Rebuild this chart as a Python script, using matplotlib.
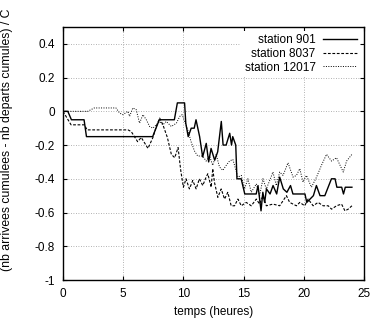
import matplotlib
matplotlib.use("Agg")
import matplotlib.pyplot as plt

plt.rcParams['font.family'] = ['Liberation Sans', 'DejaVu Sans']

# station 901 (solid)
t901 = [0, 0.4, 0.7, 1.75, 1.95, 7.45, 8.0, 9.25, 9.5, 10.1,
        10.2, 10.4, 10.65, 10.9, 11.05, 11.35, 11.6, 11.9, 12.1, 12.3,
        12.6, 12.85, 13.15, 13.3, 13.55, 13.85, 14.0, 14.1, 14.35, 14.45,
        14.8, 15.1, 16.05, 16.2, 16.45, 16.6, 16.75, 16.9, 17.2, 17.45,
        17.75, 18.0, 18.3, 18.6, 18.9, 19.1, 20.1, 20.25, 20.8, 21.05,
        21.35, 21.75, 22.3, 22.6, 22.75, 23.15, 23.3, 23.45, 24.0]
v901 = [0, 0, -0.05, -0.05, -0.15, -0.15, -0.05, -0.05, 0.05, 0.05,
        -0.07, -0.15, -0.1, -0.1, -0.05, -0.15, -0.27, -0.19, -0.3, -0.22,
        -0.29, -0.24, -0.06, -0.2, -0.2, -0.13, -0.2, -0.15, -0.2, -0.4,
        -0.4, -0.49, -0.49, -0.44, -0.59, -0.48, -0.54, -0.46, -0.49, -0.44,
        -0.49, -0.39, -0.46, -0.48, -0.44, -0.49, -0.49, -0.54, -0.5, -0.44,
        -0.5, -0.5, -0.4, -0.4, -0.45, -0.45, -0.49, -0.45, -0.45]

# station 8037 (dashed)
t8037 = [0, 0.67, 1.78, 2.0, 5.4, 5.67, 6.2, 6.5, 7.06, 7.47,
         7.75, 8.03, 8.3, 8.67, 9.0, 9.28, 9.56, 9.78, 10.0, 10.22,
         10.5, 10.78, 11.06, 11.33, 11.61, 11.89, 12.03, 12.31, 12.44, 12.58,
         12.86, 13.14, 13.42, 13.69, 13.97, 14.25, 14.53, 14.81, 15.22, 15.64,
         16.06, 16.33, 16.61, 16.89, 17.44, 18.0, 18.56, 18.83, 19.39, 19.67,
         20.08, 20.36, 20.78, 21.19, 21.61, 22.03, 22.31, 22.72, 23.14, 23.42,
         23.69, 24.0]
v8037 = [0, -0.08, -0.08, -0.11, -0.11, -0.12, -0.18, -0.155, -0.22, -0.155,
         -0.09, -0.04, -0.08, -0.155, -0.255, -0.275, -0.215, -0.35, -0.45, -0.4,
         -0.46, -0.41, -0.46, -0.4, -0.44, -0.39, -0.37, -0.45, -0.34, -0.42,
         -0.51, -0.46, -0.52, -0.48, -0.56, -0.56, -0.52, -0.56, -0.54, -0.56,
         -0.52, -0.55, -0.5, -0.56, -0.55, -0.56, -0.5, -0.54, -0.56, -0.54,
         -0.56, -0.52, -0.56, -0.54, -0.56, -0.56, -0.58, -0.56, -0.55, -0.59,
         -0.58, -0.56]

# station 12017 (dotted)
t12017 = [0, 2.05, 2.6, 4.4, 4.7, 4.97, 5.4, 5.53, 5.8, 6.08,
          6.36, 6.64, 6.92, 7.2, 7.47, 7.75, 8.03, 8.3, 8.58, 9.0,
          9.42, 9.7, 9.9, 10.36, 10.64, 10.92, 11.19, 11.61, 11.89, 12.17,
          12.44, 12.72, 13.0, 13.28, 13.56, 13.83, 14.11, 14.53, 14.81, 15.08,
          15.36, 15.64, 16.06, 16.33, 16.61, 16.89, 17.17, 17.44, 17.72, 18.0,
          18.28, 18.69, 19.11, 19.39, 19.67, 19.94, 20.22, 20.64, 21.06, 21.47,
          21.89, 22.31, 22.72, 23.28, 23.56, 24.0]
v12017 = [0, 0, 0.02, 0.02, -0.01, -0.02, 0, -0.03, 0.02, 0.01,
          -0.07, -0.02, -0.05, -0.09, -0.1, -0.08, -0.06, -0.08, -0.06, -0.09,
          -0.07, -0.03, -0.02, -0.11, -0.18, -0.235, -0.265, -0.265, -0.295, -0.265,
          -0.32, -0.255, -0.33, -0.35, -0.32, -0.295, -0.285, -0.39, -0.38, -0.46,
          -0.4, -0.48, -0.43, -0.5, -0.4, -0.46, -0.41, -0.36, -0.44, -0.36,
          -0.38, -0.305, -0.39, -0.38, -0.34, -0.42, -0.38, -0.45, -0.39, -0.32,
          -0.255, -0.295, -0.275, -0.36, -0.295, -0.255]

xticks = [0, 5, 10, 15, 20, 25]
yticks = [-1, -0.8, -0.6, -0.4, -0.2, 0, 0.2, 0.4]
ytick_labels = ['-1', '-0.8', '-0.6', '-0.4', '-0.2', '0', '0.2', '0.4']

fig = plt.figure(figsize=(3.71, 3.24), dpi=100)
ax = fig.add_axes([0.1698, 0.1358, 0.8112, 0.7809])

ax.plot(t901, v901, color='black', lw=1.0, linestyle='-', label='station 901')
ax.plot(t8037, v8037, color='black', lw=0.8, linestyle=(0, (2.5, 1.5)), label='station 8037')
ax.plot(t12017, v12017, color='black', lw=0.7, linestyle=(0, (1, 1.5)), label='station 12017')

ax.set_xlim(0, 25)
ax.set_ylim(-1, 0.5)
ax.set_xticks(xticks)
ax.set_xticklabels([str(x) for x in xticks])
ax.set_yticks(yticks)
ax.set_yticklabels(ytick_labels)
ax.tick_params(direction='in', top=True, right=True, labelsize=8.5, length=3, width=0.8, pad=6)
ax.grid(True, color='#999999', linestyle=(0, (1, 2)), linewidth=0.6)
ax.set_axisbelow(True)
for s in ax.spines.values():
    s.set_linewidth(1.0)

ax.set_xlabel('temps (heures)', fontsize=8.5, labelpad=4)
ax.set_ylabel('(nb arrivees cumulees - nb departs cumules) / C', fontsize=8.8)
ax.yaxis.set_label_coords(-0.165, 0.555)

leg = ax.legend(loc='upper right', fontsize=8.5, markerfirst=False, frameon=True,
                fancybox=False, handlelength=2.9, handletextpad=0.6,
                borderaxespad=0.3, labelspacing=0.15, borderpad=0.3)
leg.get_frame().set_facecolor('white')
leg.get_frame().set_edgecolor('none')
leg.get_frame().set_alpha(1.0)
for txt in leg.get_texts():
    txt.set_ha('right')
leg._legend_box.align = 'right'

fig.savefig('out.png', dpi=100)
